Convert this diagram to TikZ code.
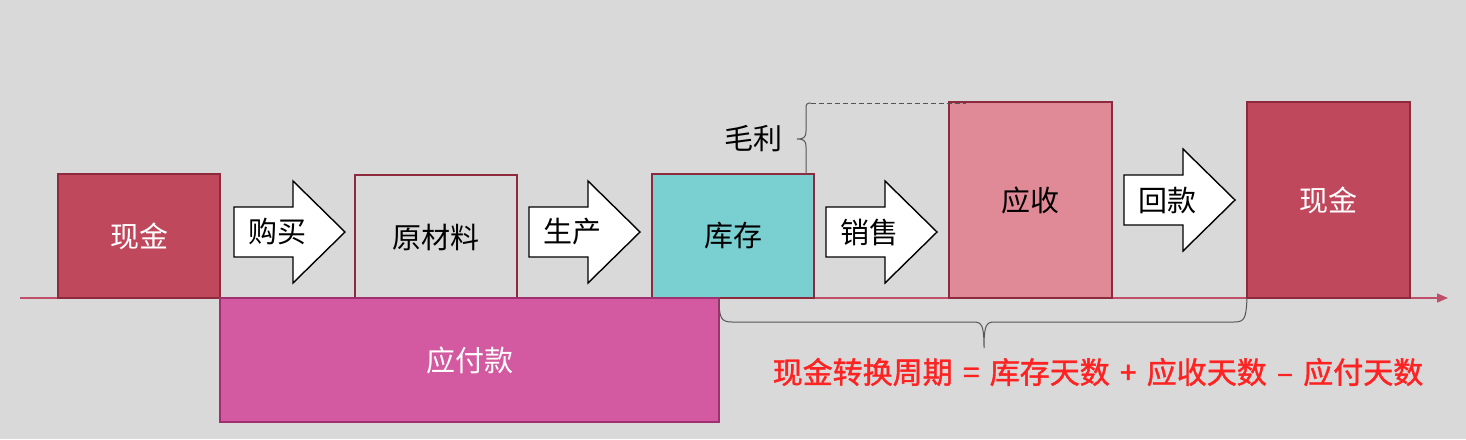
\documentclass[tikz,border=0pt]{standalone}
\usepackage{fontspec}
\newfontfamily\cjk{Noto Sans CJK SC}
\newfontfamily\cjkmed{Noto Sans CJK SC}[FakeBold=1.3]
\usetikzlibrary{arrows.meta}
\definecolor{bg}{HTML}{D9D9D9}
\definecolor{cashc}{HTML}{C0485C}
\definecolor{edgec}{HTML}{8E2A3E}
\definecolor{invc}{HTML}{7ACFD0}
\definecolor{recc}{HTML}{E08A98}
\definecolor{payc}{HTML}{D35AA0}
\definecolor{payedge}{HTML}{A03070}
\definecolor{axisc}{HTML}{C0506A}
\definecolor{bracec}{HTML}{555555}
\definecolor{redtxt}{HTML}{FF2222}
\newcommand\fatarr[4]{%
  \draw[fatarrow] (#2,#3-25) -- (#2+59,#3-25) -- (#2+59,#3-51) -- (#2+111,#3)
    -- (#2+59,#3+51) -- (#2+59,#3+25) -- (#2,#3+25) -- cycle;
  \node[arrtext] (#1) at (#2+43,#3) {#4};}
\newcommand\opsp[1]{\hspace{0.34em}#1\hspace{0.34em}}
\begin{document}
\begin{tikzpicture}[x=1pt,y=-1pt,
  box/.style={draw=edgec, line width=1.2pt, inner sep=0pt, outer sep=0pt,
    font=\cjk\fontsize{29}{30}\selectfont},
  lowbox/.style={box, minimum width=162pt, minimum height=124pt},
  tallbox/.style={box, minimum width=163pt, minimum height=196pt},
  fatarrow/.style={draw=black, fill=white, line width=1.4pt, line join=miter},
  arrtext/.style={inner sep=0pt, font=\cjk\fontsize{29}{30}\selectfont},
  bracel/.style={draw=bracec, line width=1pt},
  axisl/.style={draw=axisc, line width=1.3pt, -{Triangle[length=11pt,width=9pt]}}
]
\fill[bg] (0,0) rectangle (1466,439);
\useasboundingbox (0,0) rectangle (1466,439);

% axis
\coordinate (axl) at (20,298);
\coordinate (axr) at (1448,298);
\draw[axisl] (axl) -- (axr);

% boxes
\node[lowbox, fill=cashc, text=white] (cash1) at (139,236) {现金};
\node[lowbox, fill=bg] (raw) at (436,237) {原材料};
\node[lowbox, fill=invc] (inv) at (733,236) {库存};
\node[tallbox, fill=recc] (rec) at (1030.5,200) {应收};
\node[tallbox, fill=cashc, text=white] (cash2) at (1328.5,200) {现金};
\node[box, fill=payc, draw=payedge, text=white, minimum width=499pt, minimum height=124pt] (pay) at (469.5,360) {应付款};

% fat arrows
\fatarr{buy}{234}{232}{购买}
\fatarr{make}{529}{232}{生产}
\fatarr{sell}{826}{232}{销售}
\fatarr{collect}{1124}{200}{回款}

% gross margin brace
\coordinate (gmbot) at (806,174);
\coordinate (gmtip) at (797,139);
\coordinate (gmend) at (966,103);
\draw[bracel] (gmbot) -- (806,147) .. controls (806,140) and (803,139) .. (gmtip)
  .. controls (803,139) and (806,138) .. (806,131) -- (806,108)
  .. controls (806,104) and (807,103) .. (811,103);
\draw[bracel, dashed, dash pattern=on 5pt off 3pt] (811,103) -- (gmend);
\node[arrtext, anchor=east] (gm) at (783,139) {毛利};

% bottom brace
\coordinate (bbtip) at (984,348);
\draw[bracel] (pay.north east) .. controls (719,318) and (721,322) .. (732,322)
  -- (974,322) .. controls (982,322) and (984,326) .. (bbtip)
  .. controls (984,326) and (986,322) .. (994,322) -- (1234,322)
  .. controls (1245,322) and (1246,318) .. (cash2.south west);

% formula
\node[inner sep=0pt, text=redtxt, font=\cjkmed\fontsize{30}{31}\selectfont] (formula) at (1098,372)
  {现金转换周期\opsp{=}库存天数\opsp{+}应收天数\opsp{–}应付天数};
\end{tikzpicture}
\end{document}
